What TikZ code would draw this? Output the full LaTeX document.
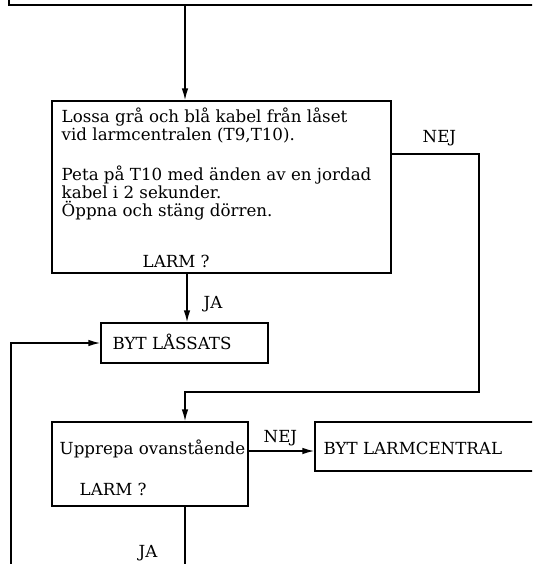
\documentclass[tikz,border=0pt]{standalone}
\usepackage{fontspec}
\setmainfont{DejaVu Serif}
\usetikzlibrary{arrows.meta}
\begin{document}
\begin{tikzpicture}[x=0.75pt,y=-0.75pt,
  line width=1.1pt,
  box/.style={draw, inner sep=0pt},
  txt/.style={anchor=base west, inner sep=0pt, font=\fontsize{12.5pt}{14pt}\selectfont},
  arr/.style={-{Latex[length=9pt,width=5pt]}}
]
\useasboundingbox (0,0) rectangle (532,564);
\clip (0,0) rectangle (532,564);
% boxes
\node[box, minimum width={611*0.75pt}, minimum height={45*0.75pt}] (top) at (314.5,-17.5) {};
\node[box, minimum width={339*0.75pt}, minimum height={172*0.75pt}] (main) at (221.5,187) {};
\node[box, minimum width={167*0.75pt}, minimum height={40*0.75pt}] (lassats) at (184.5,343) {};
\node[box, minimum width={196*0.75pt}, minimum height={84*0.75pt}] (upp) at (150,464) {};
\node[box, minimum width={305*0.75pt}, minimum height={49*0.75pt}] (larmc) at (467.5,446.5) {};
% texts
\node[txt] (t1) at (61,122) {Lossa grå och blå kabel från låset};
\node[txt] (t2) at (61,140) {vid larmcentralen (T9,T10).};
\node[txt] (t3) at (61,180) {Peta på T10 med änden av en jordad};
\node[txt] (t4) at (61,198) {kabel i 2 sekunder.};
\node[txt] (t5) at (61,216) {Öppna och stäng dörren.};
\node[txt] (t6) at (142,267) {LARM ?};
\node[txt] (t7) at (112,349) {BYT LÅSSATS};
\node[txt] (t8) at (59,454) {Upprepa ovanstående};
\node[txt] (t9) at (79,495) {LARM ?};
\node[txt] (t10) at (323,454) {BYT LARMCENTRAL};
\node[txt] (nej1) at (422,142) {NEJ};
\node[txt] (ja1) at (203,308) {JA};
\node[txt] (nej2) at (263,442) {NEJ};
\node[txt] (ja2) at (138,557) {JA};
% connectors
\coordinate (xa) at (185,0);
\coordinate (xb) at (187,0);
\coordinate (n1) at (479,154);
\coordinate (n2) at (479,392);
\coordinate (l1) at (11,343);
\coordinate (l0) at (11,580);
\coordinate (ny) at (0,451);
\coordinate (bot) at (185,580);
\draw[arr] (top.south -| xa) -- (main.north -| xa);
\draw[arr] (main.south -| xb) -- (lassats.north -| xb);
\draw[arr] (main.east |- n1) -- (n1) -- (n2) -- (n2 -| xa) -- (upp.north -| xa);
\draw[arr] (l0) -- (l1) -- (lassats.west |- l1);
\draw[arr] (upp.east |- ny) -- (larmc.west |- ny);
\draw (upp.south -| xa) -- (bot);
\end{tikzpicture}
\end{document}
